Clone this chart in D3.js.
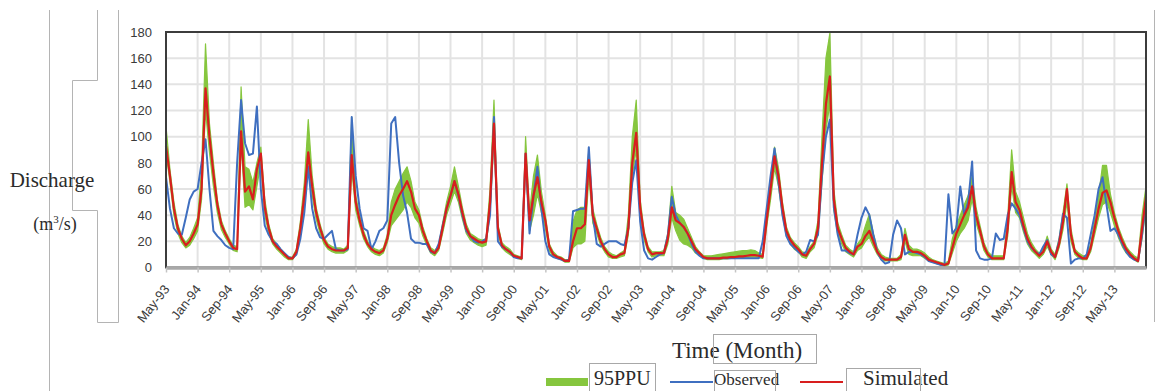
<!DOCTYPE html>
<html>
<head>
<meta charset="utf-8">
<script src="https://cdn.jsdelivr.net/npm/d3@7/dist/d3.min.js"></script>
<style>
  html, body { margin: 0; padding: 0; background: #fff; }
  svg { display: block; }
</style>
</head>
<body>
<div id="chart"></div>
<script>
// monthly series, May-93 .. Jan-14 (one row = 8 months = one grid interval)
const tickLabels = [
  'May-93', 'Jan-94', 'Sep-94', 'May-95', 'Jan-96', 'Sep-96', 'May-97', 'Jan-98',
  'Sep-98', 'May-99', 'Jan-00', 'Sep-00', 'May-01', 'Jan-02', 'Sep-02', 'May-03',
  'Jan-04', 'Sep-04', 'May-05', 'Jan-06', 'Sep-06', 'May-07', 'Jan-08', 'Sep-08',
  'May-09', 'Jan-10', 'Sep-10', 'May-11', 'Jan-12', 'Sep-12', 'May-13'
];

const yTicks = [0, 20, 40, 60, 80, 100, 120, 140, 160, 180];

const observed = [
  69, 45, 30, 26, 25, 38, 52, 58,
  60, 80, 98, 60, 28, 24, 21, 17,
  15, 14, 80, 128, 95, 86, 87, 123,
  60, 32, 25, 20, 18, 14, 11, 8,
  7, 10, 22, 42, 77, 45, 30, 23,
  22, 25, 28, 14, 13, 13, 14, 115,
  70, 45, 30, 28, 14, 20, 28, 30,
  36, 110, 115, 80, 55, 42, 22, 19,
  19, 18, 18, 12, 11, 18, 32, 45,
  55, 66, 55, 40, 28, 24, 20, 19,
  20, 22, 40, 115, 20, 16, 14, 12,
  8, 7, 7, 87, 26, 55, 77, 45,
  20, 10, 8, 7, 6, 5, 6, 43,
  44, 45, 45, 92, 40, 18, 16, 18,
  20, 20, 20, 18, 17, 30, 65, 82,
  35, 13, 7, 6, 8, 10, 11, 25,
  54, 40, 34, 31, 26, 18, 12, 9,
  7, 7, 7, 7, 7, 7, 7, 7,
  7, 7, 7, 7, 7, 7, 7, 20,
  45, 70, 91, 65, 40, 24, 18, 15,
  12, 10, 12, 21, 20, 25, 70, 100,
  113, 46, 25, 13, 13, 11, 10, 25,
  38, 46, 40, 25, 12, 6, 3, 4,
  25, 36, 30, 10, 12, 12, 11, 10,
  8, 5, 4, 3, 2, 2, 56, 26,
  30, 62, 40, 50, 81, 13, 7, 6,
  6, 7, 26, 21, 22, 40, 49, 45,
  40, 30, 20, 15, 12, 10, 16, 21,
  10, 8, 20, 41, 38, 3, 6, 7,
  7, 10, 25, 40, 60, 69, 48, 28,
  30, 25, 18, 12, 8, 6, 5, 25,
  50
];

const simulated = [
  93, 70, 45, 30, 22, 17, 20, 26,
  33, 60, 137, 100, 72, 48, 33, 26,
  20, 15, 14, 104, 58, 62, 52, 75,
  87, 46, 30, 20, 16, 13, 10, 7,
  7, 12, 30, 55, 88, 62, 42, 30,
  21, 16, 14, 13, 13, 13, 15, 86,
  50, 36, 25, 18, 14, 12, 11, 13,
  22, 40, 48, 55, 60, 66, 58, 45,
  40, 28, 20, 13, 11, 15, 30, 45,
  55, 66, 56, 42, 30, 24, 22, 20,
  19, 20, 50, 110, 30, 17, 14, 12,
  9, 8, 7, 87, 36, 55, 69, 50,
  36, 16, 10, 8, 7, 5, 5, 20,
  30, 30, 33, 82, 40, 30, 20, 14,
  10, 8, 8, 10, 11, 30, 80, 103,
  46, 25, 14, 10, 11, 11, 11, 22,
  46, 36, 34, 31, 26, 20, 14, 11,
  8, 7, 7, 7, 7, 7.5, 7.5, 8,
  8, 8.5, 8.5, 9, 9.5, 9.5, 9, 8.3,
  36, 60, 85, 70, 46, 28, 21, 17,
  14, 10, 9, 14, 18, 30, 80, 125,
  146, 52, 30, 22, 15, 12, 10, 16,
  18, 24, 28, 20, 12, 8, 6, 6,
  6, 6, 8, 25, 14, 12, 12, 11,
  9, 6, 5, 4, 3, 2, 3, 15,
  26, 33, 40, 46, 62, 40, 28, 16,
  10, 7, 7, 7, 7, 30, 73, 50,
  44, 32, 22, 16, 12, 9, 12, 20,
  12, 8, 18, 35, 60, 25, 12, 9,
  7, 7, 15, 30, 45, 57, 59, 50,
  38, 28, 20, 14, 10, 7, 5, 30,
  54
];

// 95PPU band bounds
const ppuLower = [
  88, 65, 40, 26, 19, 15, 17, 22,
  28, 52, 120, 88, 62, 42, 29, 23,
  18, 13, 12, 95, 46, 48, 44, 62,
  80, 40, 26, 18, 14, 11, 8, 6,
  6, 10, 26, 48, 78, 55, 37, 26,
  18, 14, 12, 11, 11, 11, 13, 75,
  44, 32, 22, 16, 12, 10, 9, 11,
  19, 32, 36, 40, 44, 50, 46, 38,
  34, 24, 17, 11, 9, 13, 26, 40,
  49, 58, 50, 37, 26, 21, 19, 17,
  16, 17, 42, 98, 26, 15, 12, 10,
  8, 7, 6, 78, 28, 40, 56, 42,
  30, 13, 8, 7, 6, 4, 4, 15,
  18, 18, 20, 70, 34, 26, 17, 12,
  8, 7, 7, 8, 9, 25, 70, 90,
  40, 21, 12, 8, 9, 9, 9, 18,
  38, 28, 21, 18, 17, 15, 11, 9,
  7, 6, 6, 6, 6, 6.5, 6.5, 7,
  7, 7, 7.5, 7.5, 8, 8, 7.5, 7,
  31, 52, 76, 62, 40, 24, 18, 14,
  12, 8, 7, 12, 15, 25, 65, 105,
  125, 44, 25, 18, 12, 10, 8, 13,
  15, 20, 23, 16, 10, 6, 5, 5,
  5, 5, 6, 20, 10, 9, 9, 9,
  7, 5, 4, 3, 2, 1, 2, 11,
  20, 26, 30, 36, 52, 34, 24, 13,
  8, 6, 6, 6, 6, 24, 62, 42,
  38, 27, 18, 13, 10, 7, 10, 16,
  10, 6, 15, 29, 50, 20, 10, 7,
  6, 6, 12, 25, 38, 48, 50, 42,
  32, 23, 16, 11, 8, 6, 4, 22,
  46
];

const ppuUpper = [
  108, 75, 50, 33, 24, 19, 23, 30,
  38, 75, 171, 110, 80, 52, 36, 28,
  22, 17, 16, 138, 77, 75, 65, 80,
  92, 52, 33, 22, 18, 14, 11, 8,
  8, 14, 35, 65, 113, 70, 46, 33,
  23, 18, 16, 15, 15, 14, 17, 115,
  55, 40, 28, 20, 16, 14, 13, 15,
  25, 50, 60, 66, 72, 77, 66, 50,
  44, 31, 22, 15, 13, 17, 34, 50,
  62, 77, 62, 46, 33, 26, 24, 22,
  21, 22, 60, 128, 33, 19, 16, 14,
  10, 9, 8, 100, 42, 70, 86, 58,
  40, 18, 12, 9, 8, 6, 6, 35,
  44, 46, 46, 90, 45, 33, 23, 16,
  12, 10, 9, 11, 13, 40, 100, 128,
  52, 28, 16, 12, 12, 12, 13, 26,
  62, 42, 40, 37, 30, 23, 16, 12,
  9, 9, 9, 9.5, 10, 10.5, 11, 11.5,
  12, 12.5, 13, 13, 13.4, 13, 11, 10,
  40, 66, 92, 76, 50, 31, 23, 19,
  16, 12, 11, 16, 20, 36, 100, 160,
  179, 60, 34, 25, 17, 14, 12, 18,
  22, 32, 41, 26, 15, 10, 8, 7,
  7, 7, 10, 30, 17, 14, 14, 13,
  11, 8, 6, 5, 4, 3, 5, 22,
  32, 40, 48, 55, 70, 46, 32, 19,
  12, 9, 9, 9, 9, 38, 90, 58,
  50, 38, 26, 19, 14, 11, 14, 24,
  14, 10, 22, 42, 64, 30, 14, 11,
  9, 9, 18, 36, 55, 78, 78, 56,
  42, 31, 23, 16, 12, 9, 7, 40,
  62
];

const width = 1156;
const height = 391;
const plot = { left: 166, right: 1146, top: 32, bottom: 267.5 };

const serif = '"Liberation Serif", "Times New Roman", serif';
const sans = '"Liberation Sans", Arial, sans-serif';

const svg = d3.select('#chart')
  .append('svg')
  .attr('width', width)
  .attr('height', height);

const x = d3.scaleLinear()
  .domain([0, observed.length - 1])
  .range([plot.left, plot.right]);

const y = d3.scaleLinear()
  .domain([0, 180])
  .range([plot.bottom, plot.top]);

const tickIdx = tickLabels.map((d, i) => i * 8);

// page decorations (document frame lines around the figure)
const deco = svg.append('g')
  .attr('fill', 'none')
  .attr('stroke', '#b4b4b4')
  .attr('stroke-width', 1);

deco.append('line').attr('x1', 49.5).attr('x2', 49.5).attr('y1', 10).attr('y2', 391);
deco.append('path')
  .attr('d', 'M97.5,10 V80.5 H72.5 V210.5 H97.5 V322.5 H118.5 V10');
deco.append('line').attr('x1', 1154.5).attr('x2', 1154.5).attr('y1', 10).attr('y2', 322);

// grid
const grid = svg.append('g')
  .attr('stroke', '#e3e3e3')
  .attr('stroke-width', 2);

grid.selectAll('.hgrid')
  .data(yTicks.filter(d => d > 0 && d < 180))
  .enter()
  .append('line')
  .attr('x1', plot.left)
  .attr('x2', plot.right)
  .attr('y1', d => y(d))
  .attr('y2', d => y(d));

grid.selectAll('.vgrid')
  .data(tickIdx.slice(1))
  .enter()
  .append('line')
  .attr('x1', d => x(d))
  .attr('x2', d => x(d))
  .attr('y1', plot.top)
  .attr('y2', plot.bottom);

// 95PPU band
const band = d3.area()
  .x((d, i) => x(i))
  .y0((d, i) => y(ppuLower[i]))
  .y1((d, i) => y(ppuUpper[i]));

svg.append('path')
  .datum(ppuUpper)
  .attr('d', band)
  .attr('fill', '#86c63e')
  .attr('stroke', '#86c63e')
  .attr('stroke-width', 1.2)
  .attr('stroke-linejoin', 'round');

const line = d3.line()
  .x((d, i) => x(i))
  .y(d => y(d));

svg.append('path')
  .datum(observed)
  .attr('d', line)
  .attr('fill', 'none')
  .attr('stroke', '#3f6fc0')
  .attr('stroke-width', 2)
  .attr('stroke-linejoin', 'round');

svg.append('path')
  .datum(simulated)
  .attr('d', line)
  .attr('fill', 'none')
  .attr('stroke', '#d81e1e')
  .attr('stroke-width', 2.2)
  .attr('stroke-linejoin', 'round');

// plot frame
svg.append('rect')
  .attr('x', plot.left)
  .attr('y', plot.top)
  .attr('width', plot.right - plot.left)
  .attr('height', plot.bottom - plot.top)
  .attr('fill', 'none')
  .attr('stroke', '#3c3c3c')
  .attr('stroke-width', 2);

// y axis
const yAxis = svg.append('g')
  .attr('transform', `translate(${plot.left},0)`)
  .call(d3.axisLeft(y).tickValues(yTicks).tickSize(0).tickPadding(14));

yAxis.select('.domain').remove();
yAxis.selectAll('text')
  .attr('font-family', sans)
  .attr('font-size', 13)
  .attr('fill', '#3a3a3a');

// x axis
const xAxis = svg.append('g')
  .attr('transform', `translate(0,${plot.bottom})`)
  .call(d3.axisBottom(x)
    .tickValues(tickIdx)
    .tickFormat((d, i) => tickLabels[i])
    .tickSize(5)
    .tickSizeOuter(0));

xAxis.select('.domain')
  .attr('stroke', '#a8a8a8')
  .attr('stroke-width', 3.5);

xAxis.selectAll('.tick line')
  .attr('stroke', '#c4c4c4')
  .attr('stroke-width', 1.5);

xAxis.selectAll('text')
  .attr('font-family', sans)
  .attr('font-size', 13)
  .attr('fill', '#3a3a3a')
  .attr('text-anchor', 'end')
  .attr('x', 0)
  .attr('y', 0)
  .attr('dy', '0.35em')
  .attr('transform', 'translate(0,19) rotate(-52)');

// axis titles
svg.append('text')
  .attr('x', 52)
  .attr('y', 187)
  .attr('text-anchor', 'middle')
  .attr('font-family', serif)
  .attr('font-size', 21)
  .attr('fill', '#2b2b2b')
  .text('Discharge');

const unit = svg.append('text')
  .attr('x', 55)
  .attr('y', 230)
  .attr('text-anchor', 'middle')
  .attr('font-family', serif)
  .attr('font-size', 18)
  .attr('fill', '#2b2b2b');
unit.append('tspan').text('(m');
unit.append('tspan').attr('font-size', 11).attr('dy', -7).text('3');
unit.append('tspan').attr('dy', 7).text('/s)');

svg.append('text')
  .attr('x', 737)
  .attr('y', 358)
  .attr('text-anchor', 'middle')
  .attr('font-family', serif)
  .attr('font-size', 23)
  .attr('fill', '#2b2b2b')
  .text('Time (Month)');

// legend
const legendItems = [
  { name: '95PPU', color: '#86c63e', w: 8, x1: 546, x2: 588, tx: 594, size: 20 },
  { name: 'Observed', color: '#3f6fc0', w: 2, x1: 670, x2: 713, tx: 714, size: 17 },
  { name: 'Simulated', color: '#d81e1e', w: 2.2, x1: 800, x2: 843, tx: 863, size: 21 }
];

const legend = svg.append('g');

legend.selectAll('.lg-line')
  .data(legendItems)
  .enter()
  .append('line')
  .attr('x1', d => d.x1)
  .attr('x2', d => d.x2)
  .attr('y1', 382)
  .attr('y2', 382)
  .attr('stroke', d => d.color)
  .attr('stroke-width', d => d.w);

legend.selectAll('.lg-text')
  .data(legendItems)
  .enter()
  .append('text')
  .attr('x', d => d.tx)
  .attr('y', 385)
  .attr('font-family', serif)
  .attr('font-size', d => d.size)
  .attr('fill', '#2b2b2b')
  .text(d => d.name);

// text boxes left over from the source document
const boxes = [
  [713, 334, 103, 29],
  [589, 363, 66, 30],
  [714, 370, 61, 23],
  [846, 368, 74, 25]
];

svg.append('g')
  .selectAll('rect')
  .data(boxes)
  .enter()
  .append('rect')
  .attr('x', d => d[0] + 0.5)
  .attr('y', d => d[1] + 0.5)
  .attr('width', d => d[2])
  .attr('height', d => d[3])
  .attr('fill', 'none')
  .attr('stroke', '#a8a8a8')
  .attr('stroke-width', 1);
</script>
</body>
</html>
